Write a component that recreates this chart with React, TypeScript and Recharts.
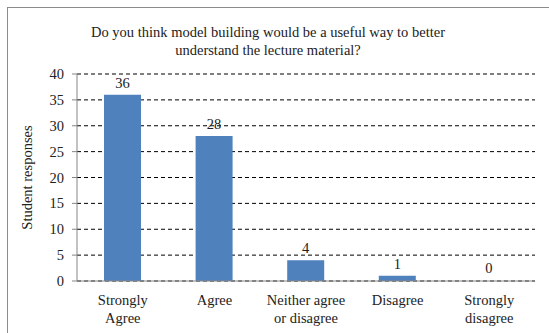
import { BarChart, Bar, XAxis, YAxis, CartesianGrid, LabelList, Label, Rectangle } from 'recharts';

const categories = [['Strongly', 'Agree'], ['Agree'], ['Neither agree', 'or disagree'], ['Disagree'], ['Strongly', 'disagree']];
const responses = [36, 28, 4, 1, 0];
const yTicks = [0, 5, 10, 15, 20, 25, 30, 35, 40];

const dados = categories.map((c, i) => ({ name: c.join(' '), lines: c, value: responses[i] }));

const font = '"Liberation Serif", "Times New Roman", serif';

function CategoryTick(props: any) {
  const { x, y, payload, index } = props;
  const lines = dados[index]?.lines ?? [payload.value];
  return (
    <text x={x} y={y} textAnchor="middle" fontFamily={font} fontSize={14.5} fill="#222">
      {lines.map((l: string, i: number) => (
        <tspan key={i} x={x} dy={i === 0 ? 16 : 18}>{l}</tspan>
      ))}
    </text>
  );
}

function ValueTick(props: any) {
  const { x, y, payload } = props;
  return (
    <text x={x - 6} y={y} dy={5} textAnchor="end" fontFamily={font} fontSize={14.5} fill="#222">
      {payload.value}
    </text>
  );
}

// zero-height bars still need their "0" label, so they get a 1px slot but draw nothing
function BarShape(props: any) {
  if (!props.payload || props.payload.value <= 0) return null;
  return <Rectangle {...props} />;
}

export default function App() {
  return (
    <div style={{ position: 'absolute', left: 7, top: 7, width: 560, height: 340, border: '1px solid #8c8c8c', background: '#fff', fontFamily: font }}>
      <div style={{ position: 'absolute', left: 0, width: 520, top: 15, textAlign: 'center', fontSize: 14.5, lineHeight: '18px', color: '#222' }}>
        Do you think model building would be a useful way to better<br />understand the lecture material?
      </div>
      <div style={{ position: 'absolute', left: 0, top: 0 }}>
        <BarChart width={541} height={325} data={dados} margin={{ top: 66, right: 14, left: 0, bottom: 7 }} barSize={37} style={{ fontFamily: font }}>
          <CartesianGrid vertical={false} stroke="#000" strokeDasharray="4 3" />
          <XAxis dataKey="name" tick={<CategoryTick />} tickLine={false} axisLine={{ stroke: '#868686' }} height={45} interval={0} />
          <YAxis domain={[0, 40]} ticks={yTicks} width={69} axisLine={{ stroke: '#868686' }} tickLine={{ stroke: '#868686' }} tickSize={5}
            tick={<ValueTick />}>
            <Label value="Student responses" angle={-90} position="insideLeft" offset={19}
              style={{ textAnchor: 'middle', fontFamily: font, fontSize: 14.5, fill: '#222' }} fontFamily={font} />
          </YAxis>
          <Bar dataKey="value" fill="#4F81BD" isAnimationActive={false} minPointSize={1} shape={<BarShape />}>
            <LabelList dataKey="value" position="top" offset={7} fontFamily={font}
              style={{ fontFamily: font, fontSize: 14.5, fill: '#222' }} />
          </Bar>
        </BarChart>
      </div>
    </div>
  );
}
